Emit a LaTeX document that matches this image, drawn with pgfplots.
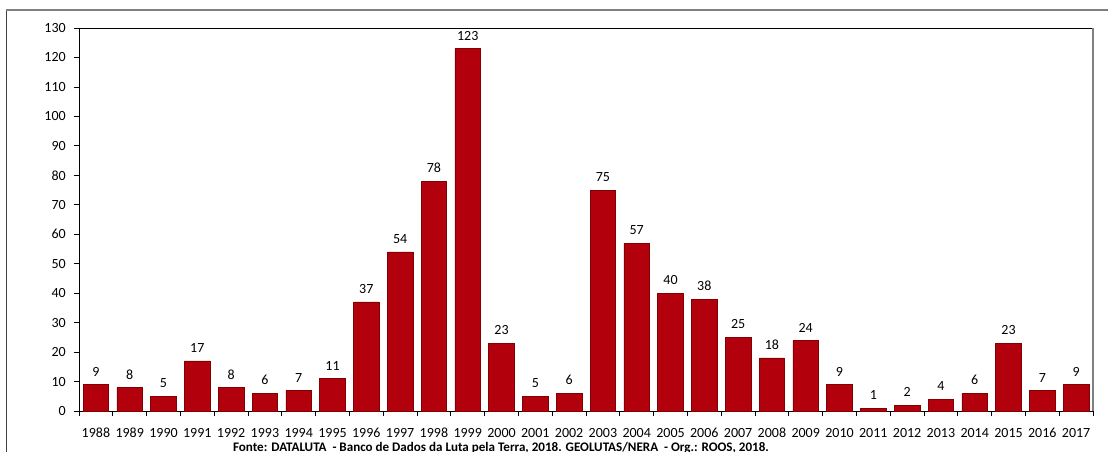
\documentclass[border=0pt]{standalone}
\usepackage{pgfplots}
\pgfplotsset{compat=1.18}
\usepackage{fontspec}
\setmainfont{Carlito}
\definecolor{barmid}{RGB}{226,0,22}
\definecolor{baredge}{RGB}{178,0,12}
\definecolor{barline}{RGB}{130,0,0}
\definecolor{framegray}{RGB}{128,128,128}
\begin{document}
\begin{tikzpicture}[x=0.75pt,y=0.75pt]
\path[use as bounding box] (0,0) rectangle (1108,452);
\clip (0,0) rectangle (1108,452);
\draw[black!75, line width=0.75pt] (6,-5) -- (6,442);
\draw[framegray, line width=1.5pt] (5.6,442) -- (1115,442);
\begin{axis}[
  at={(59.25pt,30.75pt)}, anchor=south west,
  scale only axis, width=760.5pt, height=287.25pt,
  xmin=-0.5, xmax=29.5, ymin=0, ymax=130,
  axis x line*=bottom, axis y line*=left,
  axis line style={black, line width=0.6pt, -},
  ytick={0,10,...,130},
  xtick={0,...,29},
  xticklabels={1988,1989,1990,1991,1992,1993,1994,1995,1996,1997,1998,1999,2000,2001,2002,2003,2004,2005,2006,2007,2008,2009,2010,2011,2012,2013,2014,2015,2016,2017},
  minor xtick={-0.5,0.5,...,29.5},
  major x tick style={draw=none},
  tick align=outside,
  major tick length=3.75pt, minor tick length=3.75pt,
  tick style={black, line width=0.6pt},
  ticklabel style={font=\fontsize{10.5}{12}\selectfont, inner sep=0pt},
  xticklabel style={anchor=base, yshift=-16.5pt},
  yticklabel style={anchor=east, xshift=-6pt},
  /pgf/number format/assume math mode=true,
  ybar, bar width=0.76,
  nodes near coords,
  nodes near coords style={font=\fontsize{10.5}{12}\selectfont, inner sep=0pt, anchor=south, yshift=6pt, black},
  clip=false,
]
\addplot[ybar, draw=barline, line width=0.4pt, left color=baredge, middle color=barmid, right color=baredge] coordinates {
(0,9) (1,8) (2,5) (3,17) (4,8) (5,6) (6,7) (7,11) (8,37) (9,54)
(10,78) (11,123) (12,23) (13,5) (14,6) (15,75) (16,57) (17,40) (18,38) (19,25)
(20,18) (21,24) (22,9) (23,1) (24,2) (25,4) (26,6) (27,23) (28,7) (29,9)
};
\draw[black, line width=0.6pt] (rel axis cs:0,1) -- (rel axis cs:1,1);
\draw[framegray, line width=1pt] (rel axis cs:1,1) -- (rel axis cs:1,0);
\end{axis}
\node[anchor=base, inner sep=0pt, font=\bfseries\fontsize{9.8}{11}\selectfont] at (501,0.8) {Fonte: DATALUTA\ \ - Banco\ de Dados da Luta pela Terra, 2018. GEOLUTAS/NERA\ \ - Org.: ROOS, 2018.};
\end{tikzpicture}
\end{document}
